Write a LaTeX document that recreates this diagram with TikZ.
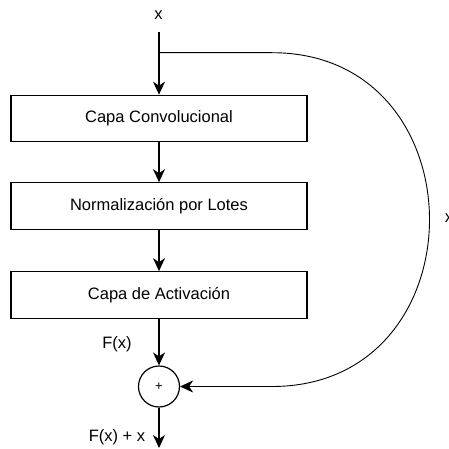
\documentclass[tikz,border=0pt]{standalone}
\usepackage{fontspec}
\setmainfont{Liberation Sans}
\usepackage{tikz}
\usetikzlibrary{arrows.meta, shapes, positioning, calc}

\begin{document}
\begin{tikzpicture}[x=1pt, y=-1pt, line width=1.2pt, font=\fontsize{16.5}{19}\selectfont]
\tikzstyle{capa}=[draw, rectangle, minimum width=296pt, minimum height=46.5pt, inner sep=0pt]
\tikzstyle{suma}=[draw, circle, minimum size=41pt, inner sep=0pt, font=\fontsize{13}{15}\selectfont]
\tikzstyle{flecha}=[-{Stealth[length=13pt, width=12pt, inset=4pt]}]
\useasboundingbox (0,0) rectangle (448,449);

\node (xin) at (158.5,15) {x};
\coordinate (ini) at (159,32);
\coordinate (rama) at (159,52.7);
\node (conv) [capa] at (159,118.5) {Capa Convolucional};
\node (norm) [capa] at (159,206) {Normalización por Lotes};
\node (act) [capa] at (159,295) {Capa de Activación};
\node (sum) [suma] at (159,386.5) {+};
\coordinate (fin) at (159,448);

\draw [flecha] (ini) -- (conv);
\draw [flecha] (conv) -- (norm);
\draw [flecha] (norm) -- (act);
\draw [flecha] (act) -- (sum);
\draw [flecha] (sum) -- (fin);
\draw [flecha, line width=0.9pt] (rama) -- (272,52.7) .. controls (482,52.7) and (482,386.5) .. (272,386.5) -- (sum.east);

\node (fx) at (117,344) {F(x)};
\node (fxx) at (117,437) {F(x) + x};
\node (xder) [anchor=west] at (441,218) {x};

\end{tikzpicture}
\end{document}
